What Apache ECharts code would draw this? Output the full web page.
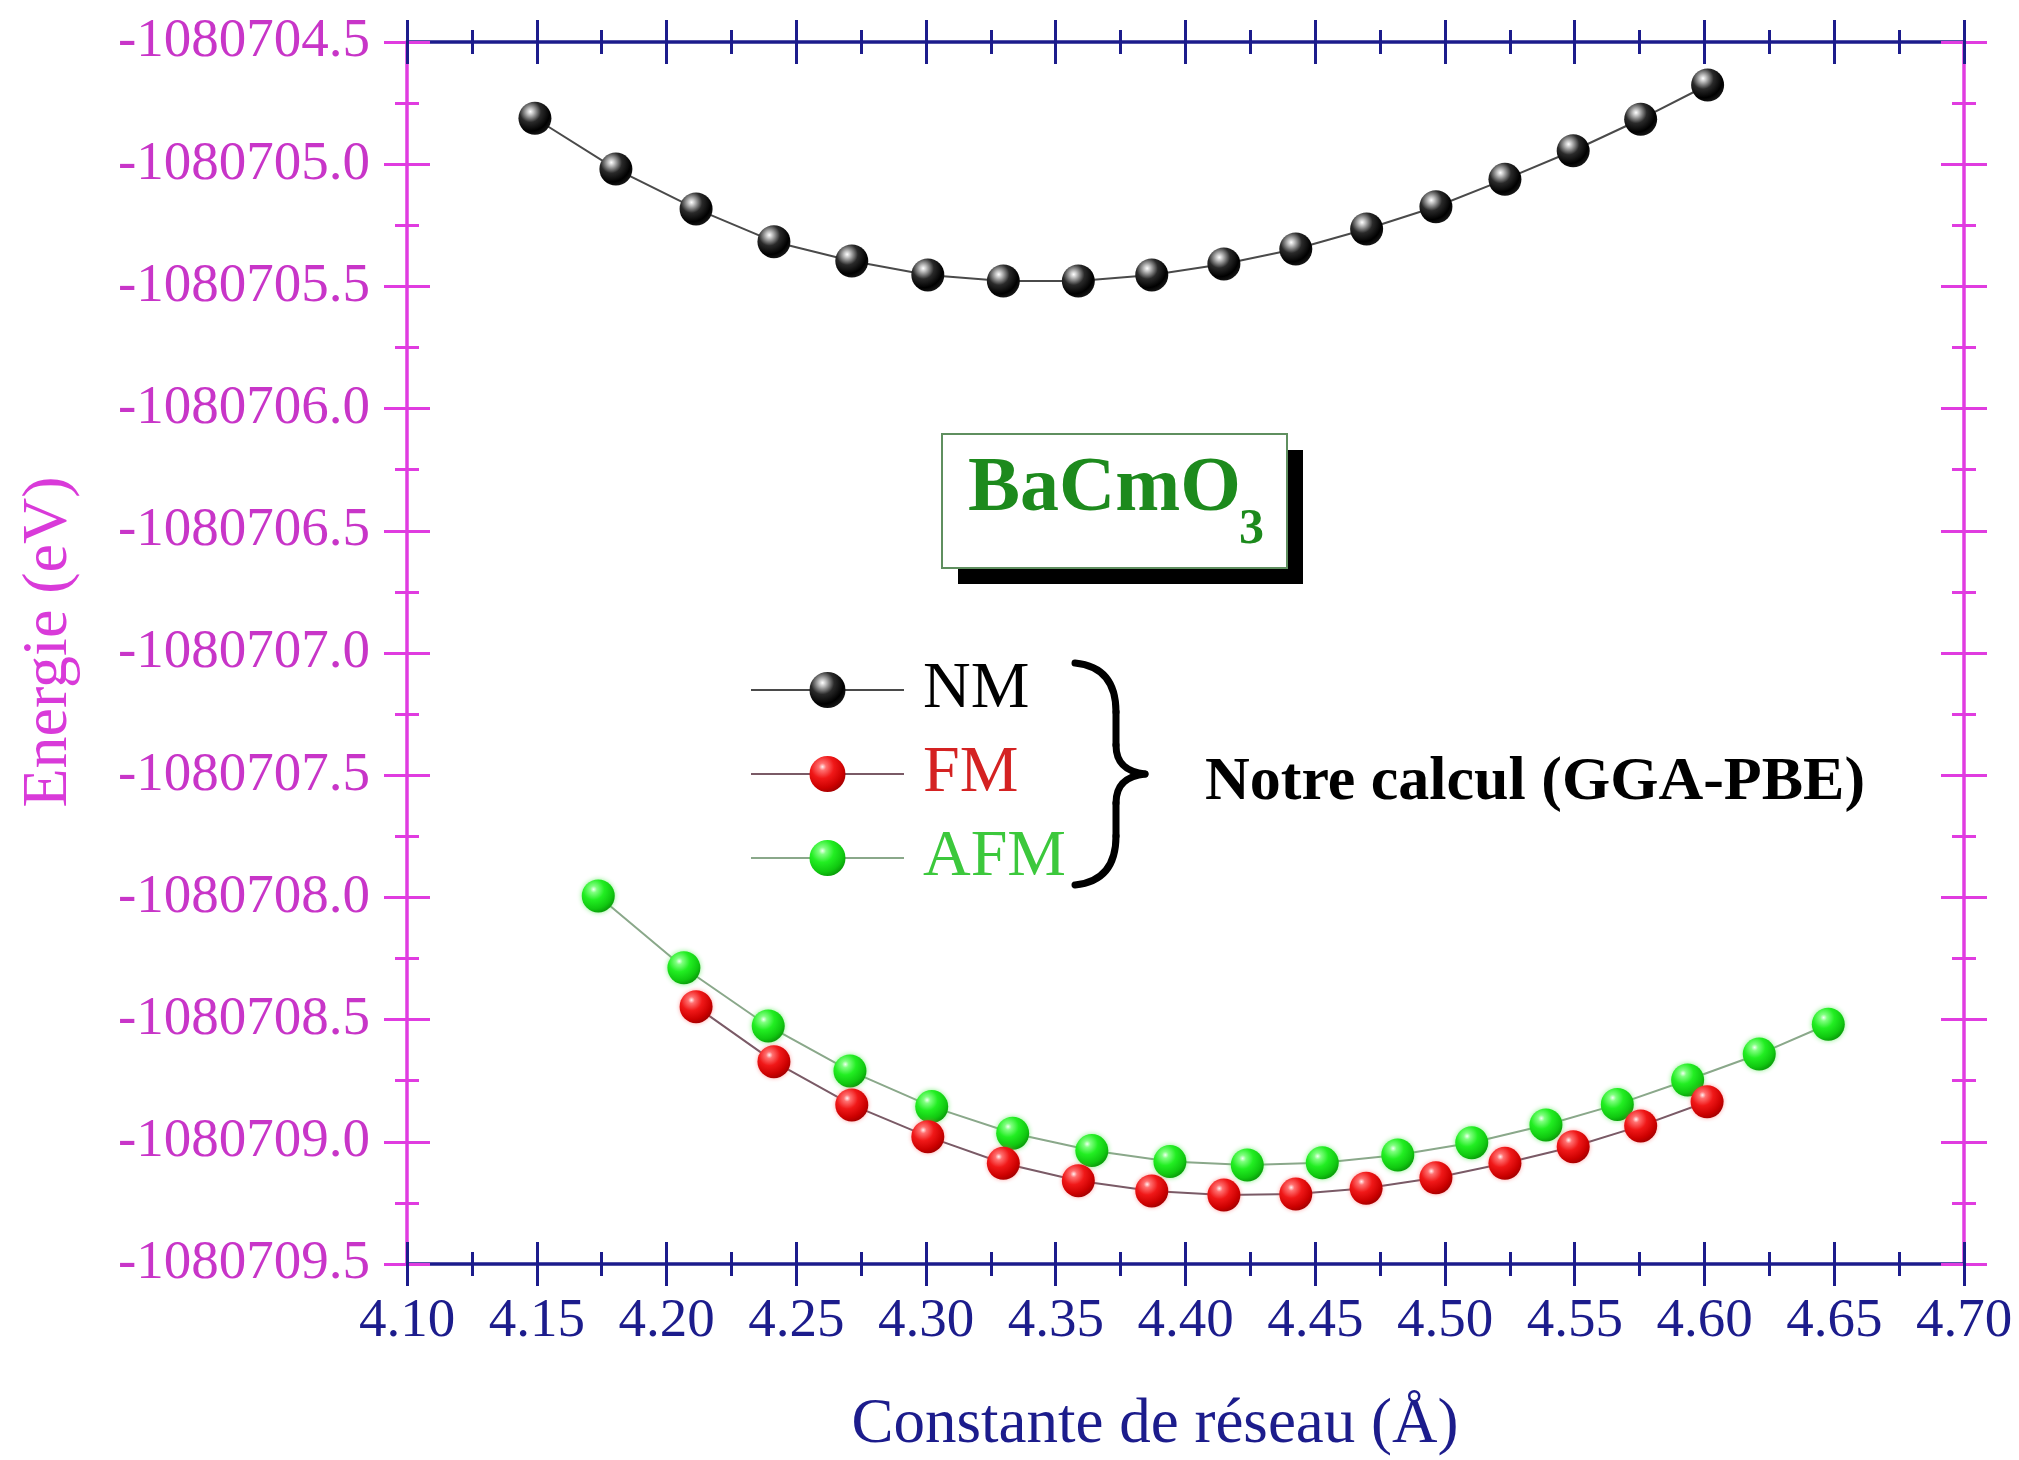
<!DOCTYPE html>
<html>
<head>
<meta charset="utf-8">
<script src="https://cdn.jsdelivr.net/npm/echarts@6/dist/echarts.min.js"></script>
<style>
  html, body { margin: 0; padding: 0; background: #ffffff; }
  #chart { width: 2019px; height: 1460px; }
</style>
</head>
<body>
<div id="chart"></div>
<script>
// Lattice constants (Å) and total energies (eV) for BaCmO3
const latticeNM = [4.1493, 4.1805, 4.2114, 4.2414, 4.2714, 4.3007, 4.3298, 4.3587, 4.3870,
                   4.4148, 4.4425, 4.4698, 4.4965, 4.5231, 4.5494, 4.5754, 4.6012];
const energyNM = [-1080704.812, -1080705.020, -1080705.183, -1080705.317, -1080705.396,
                  -1080705.453, -1080705.478, -1080705.478, -1080705.453, -1080705.408,
                  -1080705.347, -1080705.265, -1080705.174, -1080705.062, -1080704.945,
                  -1080704.816, -1080704.676];

const latticeFM = [4.2114, 4.2414, 4.2714, 4.3007, 4.3298, 4.3587, 4.3870, 4.4148,
                   4.4425, 4.4696, 4.4965, 4.5231, 4.5494, 4.5754, 4.6010];
const energyFM = [-1080708.447, -1080708.672, -1080708.849, -1080708.979, -1080709.088,
                  -1080709.159, -1080709.201, -1080709.218, -1080709.214, -1080709.190,
                  -1080709.147, -1080709.088, -1080709.020, -1080708.935, -1080708.836];

const latticeAFM = [4.1737, 4.2067, 4.2392, 4.2707, 4.3022, 4.3334, 4.3639, 4.3940, 4.4238,
                    4.4527, 4.4818, 4.5103, 4.5389, 4.5664, 4.5935, 4.6211, 4.6477];
const energyAFM = [-1080707.994, -1080708.288, -1080708.526, -1080708.710, -1080708.856,
                   -1080708.965, -1080709.036, -1080709.081, -1080709.095, -1080709.086,
                   -1080709.054, -1080709.004, -1080708.931, -1080708.847, -1080708.747,
                   -1080708.641, -1080708.519];

const seriesNames = ['NM', 'FM', 'AFM'];

// Axis ranges and tick steps
const xMin = 4.10, xMax = 4.70, xStep = 0.05;
const yMin = -1080709.5, yMax = -1080704.5, yStep = 0.5;

const FONT = '"Liberation Serif", "Times New Roman", serif';
const NAVY = '#1c1c8c';
const MAGENTA = '#e03ce0';
const MAGENTA_TEXT = '#c835c8';

function pairs(xs, ys) { return xs.map((x, i) => [x, ys[i]]); }

// Shaded ball fill for the markers
function sphere(stops) {
  return new echarts.graphic.RadialGradient(0.36, 0.3, 0.72,
    stops.map((c, i) => ({ offset: [0, 0.14, 0.45, 0.82, 1][i], color: c })));
}

// Ticks cross the axis line: one axis draws the outer half, a twin draws the inner half
function xAxisPart(position, inside, main) {
  return {
    type: 'value', position: position, min: xMin, max: xMax, interval: xStep,
    axisLine: { show: main, onZero: false, lineStyle: { color: NAVY, width: 3.5 } },
    axisTick: { show: true, inside: inside, length: 22, lineStyle: { color: NAVY, width: 3 } },
    minorTick: { show: true, splitNumber: 2, length: 12, lineStyle: { color: NAVY, width: 3 } },
    axisLabel: {
      show: main && position === 'bottom' && !inside, margin: 30,
      color: NAVY, fontFamily: FONT, fontSize: 55,
      formatter: v => v.toFixed(2)
    },
    splitLine: { show: false }, minorSplitLine: { show: false }
  };
}
function yAxisPart(position, inside, main) {
  return {
    type: 'value', position: position, min: yMin, max: yMax, interval: yStep,
    axisLine: { show: main, onZero: false, lineStyle: { color: MAGENTA, width: 3.5 } },
    axisTick: { show: true, inside: inside, length: 23, lineStyle: { color: MAGENTA, width: 3 } },
    minorTick: { show: true, splitNumber: 2, length: 12, lineStyle: { color: MAGENTA, width: 3 } },
    axisLabel: {
      show: main && position === 'left' && !inside, margin: 37,
      color: MAGENTA_TEXT, fontFamily: FONT, fontSize: 55,
      formatter: v => v.toFixed(1)
    },
    splitLine: { show: false }, minorSplitLine: { show: false }
  };
}

const chart = echarts.init(document.getElementById('chart'), null, { renderer: 'canvas' });

const braceStyle = { stroke: '#000000', lineWidth: 7, lineCap: 'round', fill: null };

chart.setOption({
  backgroundColor: '#ffffff',
  animation: false,
  textStyle: { fontFamily: FONT },
  grid: { left: 407, right: 55, top: 42, bottom: 196, containLabel: false, outerBoundsMode: 'none' },
  xAxis: [
    xAxisPart('bottom', false, true),
    xAxisPart('bottom', true, false),
    xAxisPart('top', false, true),
    xAxisPart('top', true, false)
  ],
  yAxis: [
    yAxisPart('left', false, true),
    yAxisPart('left', true, false),
    yAxisPart('right', false, true),
    yAxisPart('right', true, false)
  ],
  legend: {
    orient: 'vertical', left: 750, top: 657, padding: 0,
    itemWidth: 153, itemHeight: 45, itemGap: 18, selectedMode: false,
    textStyle: { fontFamily: FONT, fontSize: 66, lineHeight: 66, padding: [0, 0, 0, 14] },
    data: [
      { name: seriesNames[0], textStyle: { color: '#000000' } },
      { name: seriesNames[1], textStyle: { color: '#d42222' } },
      { name: seriesNames[2], textStyle: { color: '#3cc83c' } }
    ]
  },
  series: [
    {
      name: seriesNames[0], type: 'line', xAxisIndex: 0, yAxisIndex: 0,
      data: pairs(latticeNM, energyNM),
      symbol: 'circle', symbolSize: 33,
      lineStyle: { color: '#4a4a4a', width: 2 },
      itemStyle: { color: sphere(['#ffffff', '#c0c0c0', '#2a2a2a', '#000000', '#151515']) },
      z: 3
    },
    {
      name: seriesNames[1], type: 'line', xAxisIndex: 0, yAxisIndex: 0,
      data: pairs(latticeFM, energyFM),
      symbol: 'circle', symbolSize: 33,
      lineStyle: { color: '#7a5a66', width: 2 },
      itemStyle: { color: sphere(['#fff0f0', '#ff7070', '#f01818', '#cc0000', '#a80000']),
                   shadowBlur: 4, shadowColor: 'rgba(255,80,80,0.5)' },
      z: 4
    },
    {
      name: seriesNames[2], type: 'line', xAxisIndex: 0, yAxisIndex: 0,
      data: pairs(latticeAFM, energyAFM),
      symbol: 'circle', symbolSize: 33,
      lineStyle: { color: '#8aa88a', width: 2 },
      itemStyle: { color: sphere(['#f0fff0', '#80ff80', '#22ee22', '#10c810', '#0aa00a']),
                   shadowBlur: 5, shadowColor: 'rgba(60,230,60,0.6)' },
      z: 3
    }
  ],
  graphic: [
    // compound label box with drop shadow
    { type: 'rect', shape: { x: 958, y: 450, width: 345, height: 134 }, style: { fill: '#000000' }, z: 10 },
    { type: 'rect', shape: { x: 942, y: 434, width: 345, height: 134 },
      style: { fill: '#ffffff', stroke: '#5f8f5f', lineWidth: 2 }, z: 11 },
    { type: 'text', x: 968, y: 490, z: 12,
      style: { text: 'BaCmO', fontFamily: FONT, fontWeight: 'bold', fontSize: 78,
               fill: '#1d8a1d', align: 'left', verticalAlign: 'middle' } },
    { type: 'text', x: 1239, y: 530, z: 12,
      style: { text: '3', fontFamily: FONT, fontWeight: 'bold', fontSize: 50,
               fill: '#1d8a1d', align: 'left', verticalAlign: 'middle' } },
    // curly brace grouping the three curves
    { type: 'bezierCurve', z: 10, shape: { x1: 1075, y1: 663, cpx1: 1105, cpy1: 666, cpx2: 1116, cpy2: 685, x2: 1116, y2: 712 }, style: braceStyle },
    { type: 'line', z: 10, shape: { x1: 1116, y1: 712, x2: 1116, y2: 745 }, style: braceStyle },
    { type: 'bezierCurve', z: 10, shape: { x1: 1116, y1: 745, cpx1: 1116, cpy1: 765, cpx2: 1128, cpy2: 772, x2: 1145, y2: 774 }, style: braceStyle },
    { type: 'bezierCurve', z: 10, shape: { x1: 1145, y1: 774, cpx1: 1128, cpy1: 776, cpx2: 1116, cpy2: 783, x2: 1116, y2: 803 }, style: braceStyle },
    { type: 'line', z: 10, shape: { x1: 1116, y1: 803, x2: 1116, y2: 836 }, style: braceStyle },
    { type: 'bezierCurve', z: 10, shape: { x1: 1116, y1: 836, cpx1: 1116, cpy1: 863, cpx2: 1105, cpy2: 882, x2: 1075, y2: 885 }, style: braceStyle },
    { type: 'text', x: 1205, y: 783, z: 12,
      style: { text: 'Notre calcul (GGA-PBE)', fontFamily: FONT, fontWeight: 'bold', fontSize: 62,
               fill: '#000000', align: 'left', verticalAlign: 'middle' } },
    // axis titles
    { type: 'text', x: 1155, y: 1425, z: 12,
      style: { text: 'Constante de réseau (Å)', fontFamily: FONT, fontSize: 63,
               fill: NAVY, align: 'center', verticalAlign: 'middle' } },
    { type: 'text', x: 49, y: 642, rotation: Math.PI / 2, z: 12,
      style: { text: 'Energie (eV)', fontFamily: FONT, fontSize: 64,
               fill: '#d93ad9', align: 'center', verticalAlign: 'middle' } }
  ]
});
</script>
</body>
</html>
